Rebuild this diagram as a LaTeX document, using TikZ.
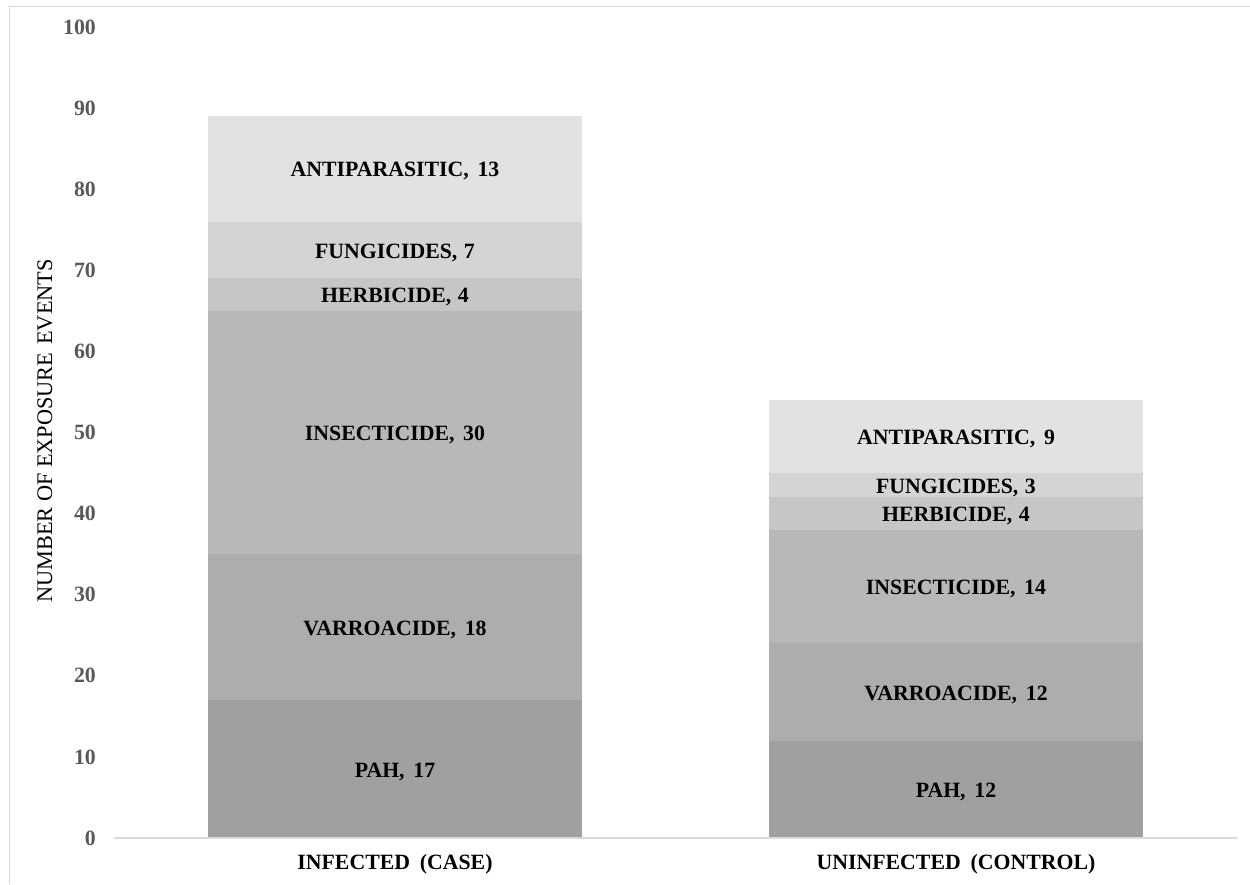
\documentclass[tikz,border=0pt]{standalone}
\usepackage{fontspec}
\setmainfont{Liberation Serif}
\definecolor{frame}{HTML}{D9D9D9}
\definecolor{ticktext}{HTML}{595959}
\definecolor{cPAH}{HTML}{A0A0A0}
\definecolor{cVAR}{HTML}{ADADAD}
\definecolor{cINS}{HTML}{B8B8B8}
\definecolor{cHER}{HTML}{C6C6C6}
\definecolor{cFUN}{HTML}{D4D4D4}
\definecolor{cANT}{HTML}{E2E2E2}
\tikzset{
  seglabel/.style={font=\fontsize{21.8}{24}\selectfont\bfseries, text=black, inner sep=0pt, anchor=center, yshift=-2.5pt},
  ticklabel/.style={font=\fontsize{21.8}{24}\selectfont\bfseries, text=ticktext, inner sep=0pt, anchor=east},
  catlabel/.style={font=\fontsize{21.8}{24}\selectfont\bfseries, text=black, inner sep=0pt, anchor=center},
  axistitle/.style={font=\fontsize{22.3}{24}\selectfont, text=black, inner sep=0pt, anchor=center, rotate=90},
}
\newcommand{\yv}[1]{838-8.11*#1}
\begin{document}
\begin{tikzpicture}[x=1pt,y=-1pt]
\useasboundingbox (0,0) rectangle (1250,884);
\fill[white] (0,0) rectangle (1250,884);
\draw[frame, line width=1.5pt] (9.5,884) -- (9.5,6.5) -- (1250,6.5);
% y tick labels
\foreach \v in {0,10,...,100} {
  \node[ticklabel] (t\v) at (96,{\yv{\v}}) {\v};
}
% axis title
\node[axistitle] (ytitle) at (45,431) {NUMBER OF EXPOSURE\hspace{0.35em}EVENTS};
% bar 1: infected
\fill[cPAH] (208,{\yv{0}}) rectangle (582,{\yv{17}});
\fill[cVAR] (208,{\yv{17}}) rectangle (582,{\yv{35}});
\fill[cINS] (208,{\yv{35}}) rectangle (582,{\yv{65}});
\fill[cHER] (208,{\yv{65}}) rectangle (582,{\yv{69}});
\fill[cFUN] (208,{\yv{69}}) rectangle (582,{\yv{76}});
\fill[cANT] (208,{\yv{76}}) rectangle (582,{\yv{89}});
% bar 2: uninfected
\fill[cPAH] (769,{\yv{0}}) rectangle (1143,{\yv{12}});
\fill[cVAR] (769,{\yv{12}}) rectangle (1143,{\yv{24}});
\fill[cINS] (769,{\yv{24}}) rectangle (1143,{\yv{38}});
\fill[cHER] (769,{\yv{38}}) rectangle (1143,{\yv{42}});
\fill[cFUN] (769,{\yv{42}}) rectangle (1143,{\yv{45}});
\fill[cANT] (769,{\yv{45}}) rectangle (1143,{\yv{54}});
% baseline
\draw[frame, line width=1.5pt] (114,838) -- (1237,838);
% labels bar 1
\node[seglabel] (a1) at (395,{\yv{8.5}}) {PAH,\hspace{0.4em}17};
\node[seglabel] (a2) at (395,{\yv{26}}) {VARROACIDE,\hspace{0.4em}18};
\node[seglabel] (a3) at (395,{\yv{50}}) {INSECTICIDE,\hspace{0.4em}30};
\node[seglabel] (a4) at (395,{\yv{67}}) {HERBICIDE,\hspace{0.3em}4};
\node[seglabel] (a5) at (395,{\yv{72.5}}) {FUNGICIDES,\hspace{0.3em}7};
\node[seglabel] (a6) at (395,{\yv{82.5}}) {ANTIPARASITIC,\hspace{0.4em}13};
% labels bar 2
\node[seglabel] (b1) at (956,{\yv{6}}) {PAH,\hspace{0.4em}12};
\node[seglabel] (b2) at (956,{\yv{18}}) {VARROACIDE,\hspace{0.4em}12};
\node[seglabel] (b3) at (956,{\yv{31}}) {INSECTICIDE,\hspace{0.4em}14};
\node[seglabel] (b4) at (956,{\yv{40}}) {HERBICIDE,\hspace{0.3em}4};
\node[seglabel] (b5) at (956,{\yv{43.5}}) {FUNGICIDES,\hspace{0.3em}3};
\node[seglabel] (b6) at (956,{\yv{49.5}}) {ANTIPARASITIC,\hspace{0.4em}9};
% category labels
\node[catlabel] (c1) at (395,864) {INFECTED\hspace{0.45em}(CASE)};
\node[catlabel] (c2) at (956,864) {UNINFECTED\hspace{0.45em}(CONTROL)};
\end{tikzpicture}
\end{document}
